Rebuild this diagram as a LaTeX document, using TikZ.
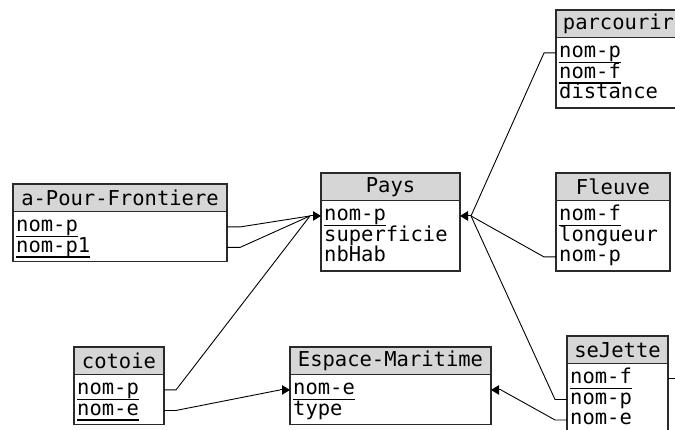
\documentclass[tikz,border=0pt]{standalone}
\usepackage{fontspec}
\setmainfont{DejaVu Sans Mono}
\usetikzlibrary{arrows.meta,calc}
\definecolor{hdrfill}{HTML}{D6D6D6}
\definecolor{boxc}{HTML}{2A2A2A}
\newcommand\efont{\fontsize{20.5pt}{20.5pt}\selectfont}
\newcommand\ukey[1]{\setbox0\hbox{#1}\rlap{\rule[-5.4pt]{\wd0}{1.3pt}}\box0}
\tikzset{
  hdr/.style={draw=boxc, line width=1.1pt, fill=hdrfill, minimum height=27.5pt, inner sep=0pt, outer sep=0pt, anchor=north west, font=\efont},
  bdy/.style={draw=boxc, line width=1.1pt, fill=white, inner sep=0pt, outer sep=0pt, anchor=north west},
  row/.style={inner xsep=0pt, inner ysep=0pt, text height=15pt, text depth=5.5pt, anchor=north west, font=\efont},
  conn/.style={line width=0.9pt, draw=black},
  tip/.style={-{Triangle[length=8pt,width=9.5pt]}}
}
\begin{document}
\begin{tikzpicture}[x=1pt,y=-1pt]
\useasboundingbox (0,0) rectangle (675,430);
\clip (0,0) rectangle (675,430);
% parcourir
\node[hdr, minimum width=125pt] (pa-h) at (556,10) {parcourir};
\node[bdy, minimum width=125pt, minimum height=70.5pt] (pa-b) at (pa-h.south west) {};
\node[row] (pa-1) at ([xshift=3pt,yshift=-5pt]pa-b.north west) {\ukey{nom-p}};
\node[row] (pa-2) at ([xshift=3pt,yshift=-25.5pt]pa-b.north west) {\ukey{nom-f}};
\node[row] (pa-3) at ([xshift=3pt,yshift=-46pt]pa-b.north west) {distance};
% a-Pour-Frontiere
\node[hdr, minimum width=214pt] (ap-h) at (13,184) {a-Pour-Frontiere};
\node[bdy, minimum width=214pt, minimum height=50pt] (ap-b) at (ap-h.south west) {};
\node[row] (ap-1) at ([xshift=3pt,yshift=-5pt]ap-b.north west) {\ukey{nom-p}};
\node[row] (ap-2) at ([xshift=3pt,yshift=-25.5pt]ap-b.north west) {\ukey{nom-p1}};
% Pays
\node[hdr, minimum width=139pt] (pays-h) at (321,173) {Pays};
\node[bdy, minimum width=139pt, minimum height=70.5pt] (pays-b) at (pays-h.south west) {};
\node[row] (pays-1) at ([xshift=3pt,yshift=-5pt]pays-b.north west) {\ukey{nom-p}};
\node[row] (pays-2) at ([xshift=3pt,yshift=-25.5pt]pays-b.north west) {superficie};
\node[row] (pays-3) at ([xshift=3pt,yshift=-46pt]pays-b.north west) {nbHab};
% Fleuve
\node[hdr, minimum width=114pt] (fl-h) at (556,173) {Fleuve};
\node[bdy, minimum width=114pt, minimum height=70.5pt] (fl-b) at (fl-h.south west) {};
\node[row] (fl-1) at ([xshift=3pt,yshift=-5pt]fl-b.north west) {\ukey{nom-f}};
\node[row] (fl-2) at ([xshift=3pt,yshift=-25.5pt]fl-b.north west) {longueur};
\node[row] (fl-3) at ([xshift=3pt,yshift=-46pt]fl-b.north west) {nom-p};
% cotoie
\node[hdr, minimum width=90pt] (co-h) at (74,347) {cotoie};
\node[bdy, minimum width=90pt, minimum height=50pt] (co-b) at (co-h.south west) {};
\node[row] (co-1) at ([xshift=3pt,yshift=-5pt]co-b.north west) {\ukey{nom-p}};
\node[row] (co-2) at ([xshift=3pt,yshift=-25.5pt]co-b.north west) {\ukey{nom-e}};
% Espace-Maritime
\node[hdr, minimum width=201pt] (em-h) at (290,347) {Espace-Maritime};
\node[bdy, minimum width=201pt, minimum height=50pt] (em-b) at (em-h.south west) {};
\node[row] (em-1) at ([xshift=3pt,yshift=-5pt]em-b.north west) {\ukey{nom-e}};
\node[row] (em-2) at ([xshift=3pt,yshift=-25.5pt]em-b.north west) {type};
% seJette
\node[hdr, minimum width=101pt] (sj-h) at (567,336) {seJette};
\node[bdy, minimum width=101pt, minimum height=70.5pt] (sj-b) at (sj-h.south west) {};
\node[row] (sj-1) at ([xshift=3pt,yshift=-5pt]sj-b.north west) {\ukey{nom-f}};
\node[row] (sj-2) at ([xshift=3pt,yshift=-25.5pt]sj-b.north west) {nom-p};
\node[row] (sj-3) at ([xshift=3pt,yshift=-46pt]sj-b.north west) {nom-e};
% convergence points
\coordinate (pL) at ($(pays-b.west |- pays-1)+(-11,0)$);
\coordinate (pR) at ($(pays-b.east |- pays-1)+(11,0)$);
\coordinate (eL) at ($(em-b.west |- em-1)+(-10,0)$);
\coordinate (eR) at ($(em-b.east |- em-1)+(10,0)$);
\coordinate (sjout) at (700,0);
% connectors
\draw[conn] (ap-b.east |- ap-1) -- ++(13,0) -- (pL);
\draw[conn] (ap-b.east |- ap-2) -- ++(13,0) -- (pL);
\draw[conn] (co-b.east |- co-1) -- ++(12,0) -- (pL);
\draw[conn,tip] (pL) -- (pays-b.west |- pays-1);
\draw[conn] (pa-b.west |- pa-1) -- ++(-12,0) -- (pR);
\draw[conn] (fl-b.west |- fl-3) -- ++(-12,0) -- (pR);
\draw[conn] (sj-b.west |- sj-2) -- ++(-12,0) -- (pR);
\draw[conn,tip] (pR) -- (pays-b.east |- pays-1);
\draw[conn] (co-b.east |- co-2) -- ++(12,0) -- (eL);
\draw[conn,tip] (eL) -- (em-b.west |- em-1);
\draw[conn] (sj-b.west |- sj-3) -- ++(-12,0) -- (eR);
\draw[conn,tip] (eR) -- (em-b.east |- em-1);
\draw[conn] (sj-b.east |- sj-1) -- (sjout |- sj-1);
\end{tikzpicture}
\end{document}
